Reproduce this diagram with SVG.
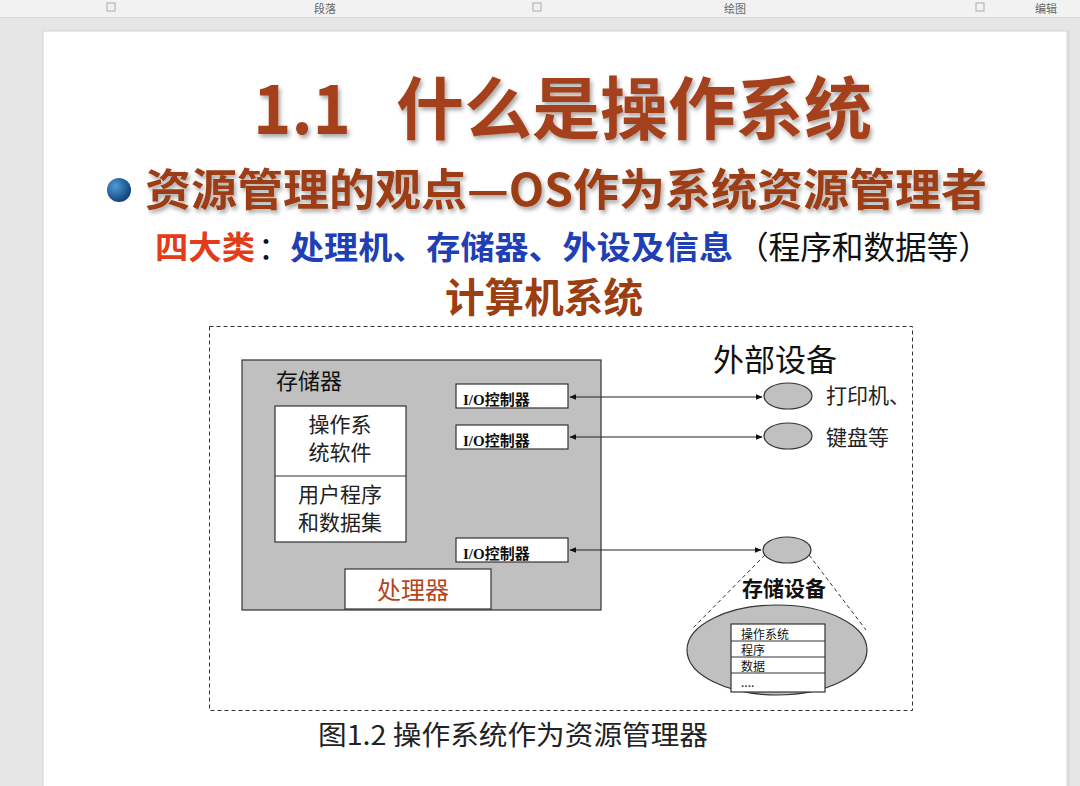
<svg xmlns="http://www.w3.org/2000/svg" width="1080" height="786" viewBox="0 0 1080 786">
<defs>
<radialGradient id="ball" cx="0.35" cy="0.35" r="0.7">
<stop offset="0" stop-color="#4f9ad8"/>
<stop offset="1" stop-color="#0d3f78"/>
</radialGradient>
<filter id="sh" x="-5%" y="-20%" width="110%" height="140%">
<feDropShadow dx="2" dy="3" stdDeviation="2" flood-color="#000" flood-opacity="0.35"/>
</filter>
<marker id="ah" viewBox="0 0 10 10" refX="9" refY="5" markerWidth="7" markerHeight="7" orient="auto-start-reverse" markerUnits="userSpaceOnUse">
<path d="M0,1 L10,5 L0,9 Z" fill="#111"/>
</marker>
</defs>
<style>
.cjk{font-family:"Noto Sans CJK SC","Noto Sans",sans-serif}
.box{fill:#fff;stroke:#333;stroke-width:1.2}
.gray{fill:#c0c0c0;stroke:#333;stroke-width:1.2}
.io{font-family:"Liberation Serif","Noto Sans CJK SC",serif;font-size:15px;font-weight:bold;fill:#111}
.lbl{font-family:"Noto Sans CJK SC",sans-serif;font-size:21px;fill:#222}
.tiny{font-family:"Noto Sans CJK SC",sans-serif;font-size:12px;fill:#111}
.conn{stroke:#222;stroke-width:1.2;fill:none;marker-start:url(#ah);marker-end:url(#ah)}
.dash{stroke:#333;stroke-width:1;fill:none;stroke-dasharray:4 3}
</style>
<rect x="0" y="0" width="1080" height="786" fill="#e6e6e6"/>
<rect x="0" y="0" width="1080" height="17" fill="#f2f2f2"/>
<line x1="0" y1="17.5" x2="1080" y2="17.5" stroke="#d8d8d8"/>
<g class="cjk" font-size="11" fill="#666">
<text x="325" y="13" text-anchor="middle">段落</text>
<text x="735" y="13" text-anchor="middle">绘图</text>
<text x="1046" y="13" text-anchor="middle">编辑</text>
</g>
<g fill="none" stroke="#aaa" stroke-width="1">
<rect x="107" y="3" width="8" height="8"/>
<rect x="533" y="3" width="8" height="8"/>
<rect x="976" y="3" width="8" height="8"/>
</g>
<rect x="43" y="31" width="1024" height="760" fill="#fff" stroke="#d4d4d4"/>
<rect x="1067" y="31" width="3" height="760" fill="#dcdcdc"/>

<g id="title" class="cjk" font-size="68" font-weight="bold" fill="#a4401a" filter="url(#sh)">
<text x="253" y="134" textLength="98" lengthAdjust="spacingAndGlyphs">1.1</text>
<text x="396" y="134" textLength="476" lengthAdjust="spacingAndGlyphs">什么是操作系统</text>
</g>
<g id="subtitle">
<circle cx="119" cy="190" r="12" fill="url(#ball)"/>
<text x="145" y="206" class="cjk" font-size="44" font-weight="bold" fill="#9c3d12" filter="url(#sh)" textLength="842" lengthAdjust="spacingAndGlyphs">资源管理的观点—OS作为系统资源管理者</text>
</g>
<g id="four">
<text x="155" y="259" class="cjk" font-size="32" font-weight="bold" fill="#e23c18" textLength="100" lengthAdjust="spacingAndGlyphs">四大类</text>
<text x="258" y="259" class="cjk" font-size="32" fill="#111">：</text>
<text x="290" y="259" class="cjk" font-size="32" font-weight="bold" fill="#1f3fb4" textLength="443" lengthAdjust="spacingAndGlyphs">处理机、存储器、外设及信息</text>
<text x="737" y="259" class="cjk" font-size="32" fill="#111" textLength="253" lengthAdjust="spacingAndGlyphs">（程序和数据等）</text>
</g>
<g id="heading">
<text x="544" y="312" text-anchor="middle" class="cjk" font-size="40" font-weight="bold" fill="#9c3d12" textLength="198" lengthAdjust="spacingAndGlyphs">计算机系统</text>
</g>

<rect id="frame" x="209.5" y="326.5" width="703" height="384" class="dash"/>

<g id="computer">
<rect x="242" y="360" width="359" height="250" class="gray"/>
<text x="276" y="389" class="cjk" font-size="22" fill="#111">存储器</text>
</g>
<g id="memory">
<rect x="275" y="406" width="131" height="136" class="box"/>
<line x1="275" y1="476" x2="406" y2="476" stroke="#333" stroke-width="1.2"/>
<text x="340" y="432" text-anchor="middle" class="lbl" font-size="22">操作系</text>
<text x="340" y="460" text-anchor="middle" class="lbl" font-size="22">统软件</text>
<text x="340" y="502" text-anchor="middle" class="lbl" font-size="22">用户程序</text>
<text x="340" y="530" text-anchor="middle" class="lbl" font-size="22">和数据集</text>
</g>
<g id="io1">
<rect x="456" y="384" width="112" height="24" class="box"/>
<text x="463" y="405" class="io">I/O控制器</text>
</g>
<g id="io2">
<rect x="456" y="425" width="112" height="24" class="box"/>
<text x="463" y="446" class="io">I/O控制器</text>
</g>
<g id="io3">
<rect x="456" y="538" width="112" height="24" class="box"/>
<text x="463" y="559" class="io">I/O控制器</text>
</g>
<g id="cpu">
<rect x="345" y="569" width="146" height="40" class="box"/>
<text x="413" y="599" text-anchor="middle" class="cjk" font-size="24" fill="#b8441c">处理器</text>
</g>

<g id="ext-label">
<text x="713" y="371" class="cjk" font-size="31" fill="#111">外部设备</text>
</g>
<g id="printer">
<ellipse cx="788" cy="396" rx="24" ry="13" class="gray"/>
<text x="826" y="403" class="lbl">打印机、</text>
</g>
<g id="keyboard">
<ellipse cx="788" cy="436" rx="24" ry="13" class="gray"/>
<text x="826" y="445" class="lbl">键盘等</text>
</g>
<g id="disk">
<ellipse cx="787" cy="550" rx="24" ry="13" class="gray"/>
</g>
<g id="storage">
<line x1="765" y1="555" x2="691" y2="630" class="dash"/>
<line x1="809" y1="555" x2="866" y2="630" class="dash"/>
<text x="784" y="596" text-anchor="middle" class="cjk" font-size="21" font-weight="bold" fill="#111">存储设备</text>
<ellipse cx="777" cy="650" rx="90" ry="45" class="gray"/>
<rect x="731" y="624" width="94" height="68" class="box"/>
<line x1="731" y1="641" x2="825" y2="641" stroke="#333"/>
<line x1="731" y1="657" x2="825" y2="657" stroke="#333"/>
<line x1="731" y1="673" x2="825" y2="673" stroke="#333"/>
<text x="741" y="639" class="tiny">操作系统</text>
<text x="741" y="655" class="tiny">程序</text>
<text x="741" y="671" class="tiny">数据</text>
<text x="741" y="687" class="tiny" fill="#777">....</text>
</g>

<g id="connectors">
<line x1="570" y1="397" x2="762" y2="397" class="conn"/>
<line x1="570" y1="437" x2="762" y2="437" class="conn"/>
<line x1="570" y1="550" x2="761" y2="550" class="conn"/>
</g>

<g id="caption">
<text x="318" y="745" class="cjk" font-size="27" fill="#222" textLength="390" lengthAdjust="spacingAndGlyphs">图1.2 操作系统作为资源管理器</text>
</g>
</svg>
